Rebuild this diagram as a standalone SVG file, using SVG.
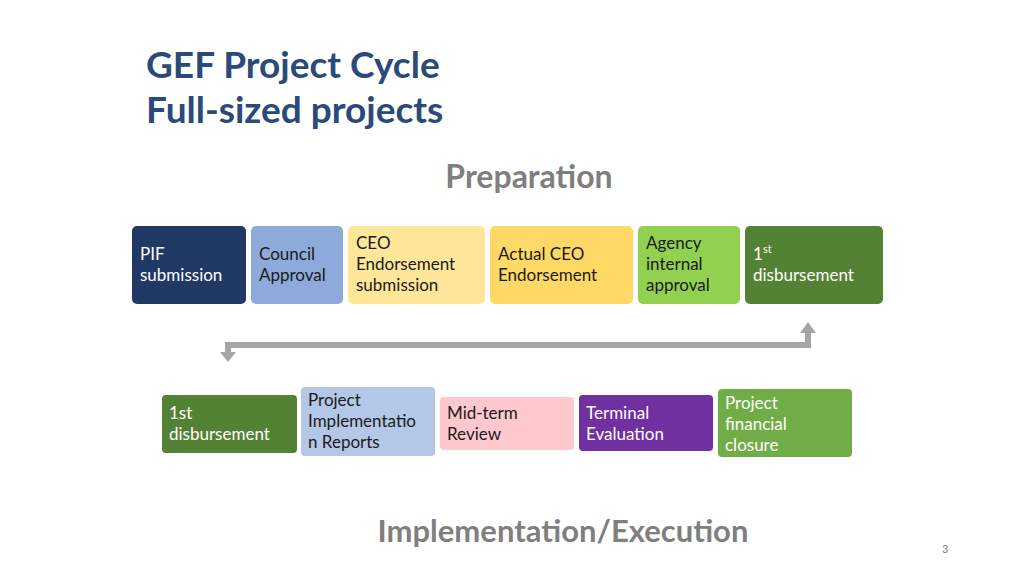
<svg xmlns="http://www.w3.org/2000/svg" width="1024" height="576" viewBox="0 0 1024 576">
<style>
.t{font-family:Lato,"Open Sans",sans-serif;font-size:17px}
.w{fill:#fff}.d{fill:#1a1a1a}
.h{font-family:Lato,"Open Sans",sans-serif;font-weight:bold}
</style>
<rect width="1024" height="576" fill="#fff"/>
<text class="h" x="146" y="78" font-size="37" fill="#2a4a7a">GEF Project Cycle</text>
<text class="h" x="146" y="123" font-size="37" fill="#2a4a7a">Full-sized projects</text>
<text class="h" x="529" y="188" font-size="32" fill="#7f7f7f" text-anchor="middle">Preparation</text>
<text class="h" x="563" y="542" font-size="31" fill="#7f7f7f" text-anchor="middle">Implementation/Execution</text>
<text x="942" y="553" font-family="Lato,sans-serif" font-size="11" fill="#7f7f7f">3</text>
<g id="connectors" fill="none">
<path d="M808,340 V345 H228 V352" stroke="#a6a6a6" stroke-width="6"/>
<polygon points="220,352 236,352 228,362" fill="#a6a6a6"/>
<polygon points="800,333 816,333 808,322" fill="#a6a6a6"/>
<path d="M808,333 V345" stroke="#a6a6a6" stroke-width="6"/>
</g>
<g id="p1"><rect x="132" y="226" width="114" height="78" rx="5" fill="#1f3864"/><text class="t w" x="140" y="260">PIF</text><text class="t w" x="140" y="281">submission</text></g>
<g id="p2"><rect x="251" y="226" width="92" height="78" rx="5" fill="#8eaadb"/><text class="t d" x="259" y="260">Council</text><text class="t d" x="259" y="281">Approval</text></g>
<g id="p3"><rect x="348" y="226" width="137" height="78" rx="5" fill="#ffe699"/><text class="t d" x="356" y="249">CEO</text><text class="t d" x="356" y="270">Endorsement</text><text class="t d" x="356" y="291">submission</text></g>
<g id="p4"><rect x="490" y="226" width="143" height="78" rx="5" fill="#ffd966"/><text class="t d" x="498" y="260">Actual CEO</text><text class="t d" x="498" y="281">Endorsement</text></g>
<g id="p5"><rect x="638" y="226" width="102" height="78" rx="5" fill="#92d050"/><text class="t d" x="646" y="249">Agency</text><text class="t d" x="646" y="270">internal</text><text class="t d" x="646" y="291">approval</text></g>
<g id="p6"><rect x="745" y="226" width="138" height="78" rx="5" fill="#548235"/><text class="t w" x="753" y="260">1<tspan font-size="11" dy="-7">st</tspan></text><text class="t w" x="753" y="281">disbursement</text></g>
<g id="i1"><rect x="162" y="395" width="135" height="58" rx="4" fill="#548235"/><text class="t w" x="169" y="419">1st</text><text class="t w" x="169" y="440">disbursement</text></g>
<g id="i2"><rect x="301" y="387" width="134" height="69" rx="4" fill="#b4c7e7"/><text class="t d" x="308" y="406">Project</text><text class="t d" x="308" y="427">Implementatio</text><text class="t d" x="308" y="448">n Reports</text></g>
<g id="i3"><rect x="440" y="397" width="134" height="53" rx="4" fill="#ffc7ce"/><text class="t d" x="447" y="419">Mid-term</text><text class="t d" x="447" y="440">Review</text></g>
<g id="i4"><rect x="579" y="395" width="134" height="56" rx="4" fill="#7030a0"/><text class="t w" x="586" y="419">Terminal</text><text class="t w" x="586" y="440">Evaluation</text></g>
<g id="i5"><rect x="718" y="389" width="134" height="68" rx="4" fill="#70ad47"/><text class="t w" x="725" y="409">Project</text><text class="t w" x="725" y="430">financial</text><text class="t w" x="725" y="451">closure</text></g>
</svg>
